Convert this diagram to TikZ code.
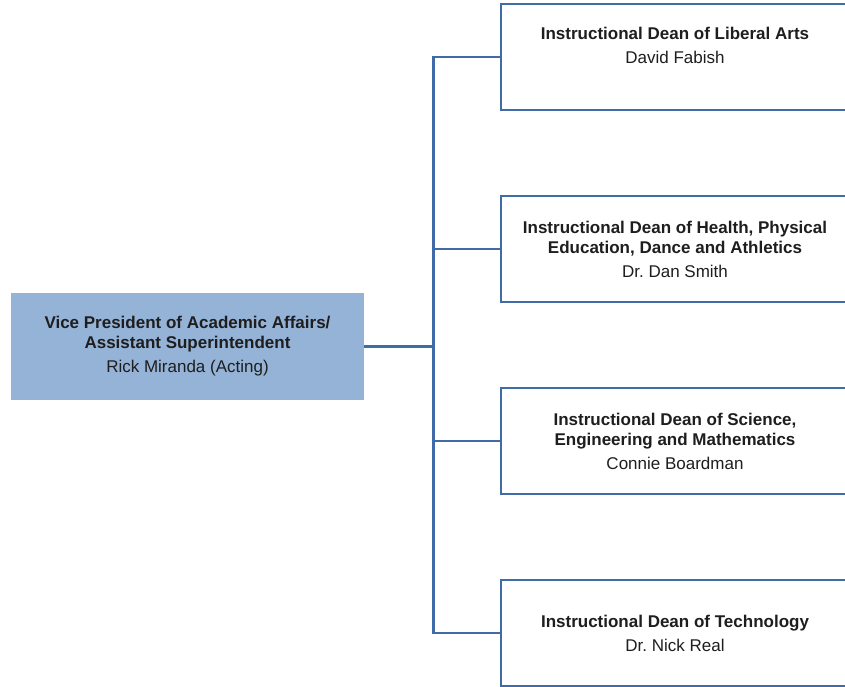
\documentclass[tikz,border=0pt]{standalone}
\usepackage{fontspec}
\setmainfont{Liberation Sans}
\definecolor{linkblue}{HTML}{3F6CA8}
\definecolor{vpfill}{HTML}{95B3D7}
\definecolor{ink}{HTML}{1E1E1E}
\begin{document}
\begin{tikzpicture}[x=1pt,y=-1pt,
  every node/.style={font=\fontsize{17}{20}\selectfont, text=ink, align=center},
  deanbox/.style={draw=linkblue, line width=2.6pt, fill=white,
    minimum width=348pt, minimum height=106pt, inner sep=0pt},
  vpbox/.style={fill=vpfill, draw=none,
    minimum width=353pt, minimum height=107pt, inner sep=0pt},
  conn/.style={draw=linkblue, line width=2.8pt}]
\useasboundingbox (0,0) rectangle (845,687);
\clip (0,0) rectangle (845,687);

% head of the division
\node[vpbox] (vp) at (187.5,346.5)
  {\textbf{Vice President of Academic Affairs/}\\\textbf{Assistant Superintendent}\\[4pt]
   Rick Miranda (Acting)};

% instructional deans
\node[deanbox] (d1) at (675,57)
  {\textbf{Instructional Dean of Liberal Arts}\\[4pt] David Fabish\\[4pt]\mbox{}};
\node[deanbox] (d2) at (675,249)
  {\textbf{Instructional Dean of Health, Physical}\\\textbf{Education, Dance and Athletics}\\[4pt]
   Dr.\ Dan Smith};
\node[deanbox] (d3) at (675,441)
  {\textbf{Instructional Dean of Science,}\\\textbf{Engineering and Mathematics}\\[4pt]
   Connie Boardman};
\node[deanbox] (d4) at (675,633)
  {\textbf{Instructional Dean of Technology}\\[4pt] Dr.\ Nick Real};

% reporting lines
\coordinate (trunk) at (433.5,346.5);
\draw[conn] (vp.east) -- (trunk);
\foreach \d in {d1,d2,d3,d4}
  \draw[conn] (trunk) |- (\d.west);
\end{tikzpicture}
\end{document}
